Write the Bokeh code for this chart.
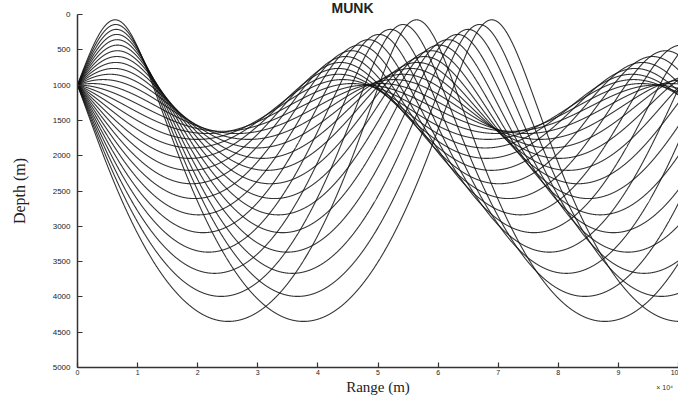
import numpy as np
from bokeh.plotting import figure
from bokeh.models import Range1d, FixedTicker, Label, LinearAxis
from bokeh.embed import file_html
from bokeh.resources import INLINE

# ---- chart data ----
title_text = "MUNK"
x_label = "Range (m)"
y_label = "Depth (m)"
x_scale_note = "\u00d7 10\u2074"
x_ticks = [0, 1, 2, 3, 4, 5, 6, 7, 8, 9, 10]          # range, x 10^4 m
y_ticks = [0, 500, 1000, 1500, 2000, 2500, 3000, 3500, 4000, 4500, 5000]  # depth, m
source_depth = 1000.0                                  # m
launch_angles_deg = [-13, -12, -11, -10, -9, -8, -7, -6, -5, -4, -3, -2, -1, 0,
                     1, 2, 3, 4, 5, 6, 7, 8, 9, 10, 11, 12, 13]
munk_c0 = 1500.0        # m/s
munk_eps = 0.00737
munk_axis = 1300.0      # m
munk_width = 1300.0     # m
max_range = 100000.0    # m


# ---- ray tracing through the Munk sound-speed profile ----
def sound_speed(z):
    eta = 2.0 * (z - munk_axis) / munk_width
    return munk_c0 * (1.0 + munk_eps * (eta + np.exp(-eta) - 1.0))


def sound_speed_dz(z):
    eta = 2.0 * (z - munk_axis) / munk_width
    return munk_c0 * munk_eps * (1.0 - np.exp(-eta)) * 2.0 / munk_width


def trace_rays(angles_deg, z0, r_max, ds=25.0):
    th = np.radians(np.asarray(angles_deg, dtype=float))
    c_src = sound_speed(z0)
    r = np.zeros_like(th)
    z = np.full_like(th, z0)
    xi = np.cos(th) / c_src
    zeta = -np.sin(th) / c_src   # positive angle = upward (depth decreases)

    def f(z_, zeta_):
        c = sound_speed(z_)
        return c * xi, c * zeta_, -sound_speed_dz(z_) / c ** 2

    rs, zs = [r.copy()], [z.copy()]
    n = int(r_max * 1.05 / ds) + 10
    for _ in range(n):
        k1r, k1z, k1q = f(z, zeta)
        k2r, k2z, k2q = f(z + 0.5 * ds * k1z, zeta + 0.5 * ds * k1q)
        k3r, k3z, k3q = f(z + 0.5 * ds * k2z, zeta + 0.5 * ds * k2q)
        k4r, k4z, k4q = f(z + ds * k3z, zeta + ds * k3q)
        r = r + ds / 6.0 * (k1r + 2 * k2r + 2 * k3r + k4r)
        z = z + ds / 6.0 * (k1z + 2 * k2z + 2 * k3z + k4z)
        zeta = zeta + ds / 6.0 * (k1q + 2 * k2q + 2 * k3q + k4q)
        rs.append(r.copy())
        zs.append(z.copy())
        if np.all(r > r_max):
            break
    R = np.array(rs)
    Z = np.array(zs)
    xs, ys = [], []
    for i in range(len(th)):
        m = R[:, i] <= r_max * 1.005
        xs.append(list(R[m, i] / 1e4))
        ys.append(list(Z[m, i]))
    return xs, ys


ray_xs, ray_ys = trace_rays(launch_angles_deg, source_depth, max_range)

# ---- figure: frame fills the canvas, axes pinned inside it ----
W, H = 678, 400
left_px, top_px, bottom_px = 77, 14, 33            # plot-area offsets inside canvas
px_per_x = (W - left_px) / (x_ticks[-1] - x_ticks[0])
px_per_y = (H - top_px - bottom_px) / (y_ticks[-1] - y_ticks[0])
x_start = x_ticks[0] - left_px / px_per_x
y_top = y_ticks[0] - top_px / px_per_y
y_bottom = y_ticks[-1] + bottom_px / px_per_y

p = figure(width=W, height=H, output_backend="svg", toolbar_location=None,
           x_range=Range1d(x_start, x_ticks[-1]), y_range=Range1d(y_bottom, y_top),
           x_axis_type=None, y_axis_type=None,
           min_border_left=0, min_border_right=0, min_border_top=0,
           min_border_bottom=0)
p.outline_line_color = None
p.background_fill_color = "white"
p.border_fill_color = "white"

p.multi_line(ray_xs, ray_ys, line_color="#111111", line_width=1.1, line_alpha=0.85)

xaxis = LinearAxis(fixed_location=y_ticks[-1], bounds=(x_ticks[0], x_ticks[-1]),
                   ticker=FixedTicker(ticks=x_ticks), axis_label=x_label)
yaxis = LinearAxis(fixed_location=x_ticks[0], bounds=(y_ticks[0], y_ticks[-1]),
                   ticker=FixedTicker(ticks=y_ticks), axis_label=y_label)
for ax in (xaxis, yaxis):
    ax.axis_line_color = "#333333"
    ax.axis_line_width = 1.5
    ax.major_tick_line_color = "#333333"
    ax.major_tick_line_width = 1.2
    ax.major_tick_in = 5
    ax.major_tick_out = 0
    ax.minor_tick_line_color = None
    ax.major_label_text_font = "Liberation Sans"
    ax.major_label_text_font_size = "8px"
    ax.major_label_text_color = "#222222"
    ax.axis_label_text_font = "Liberation Serif"
    ax.axis_label_text_font_style = "normal"
    ax.axis_label_text_font_size = "16px"
    ax.axis_label_text_color = "#222222"
xaxis.major_label_text_font_size = "7px"
xaxis.major_label_standoff = 2
xaxis.axis_label_standoff = 1
xaxis.axis_label_text_font_size = "15px"
yaxis.major_label_standoff = 7
yaxis.axis_label_standoff = 22
p.add_layout(xaxis, "below")
p.add_layout(yaxis, "left")

p.add_layout(Label(x=4.576, y=-99, text=title_text, text_align="center",
                   text_baseline="middle", text_font="Liberation Sans",
                   text_font_style="bold", text_font_size="14px",
                   text_color="#222222"))
p.add_layout(Label(x=9.77, y=5290, text=x_scale_note, text_align="center",
                   text_baseline="middle", text_font="Liberation Sans",
                   text_font_size="7px", text_color="#333333"))

open("out.html", "w").write(file_html(p, INLINE))
